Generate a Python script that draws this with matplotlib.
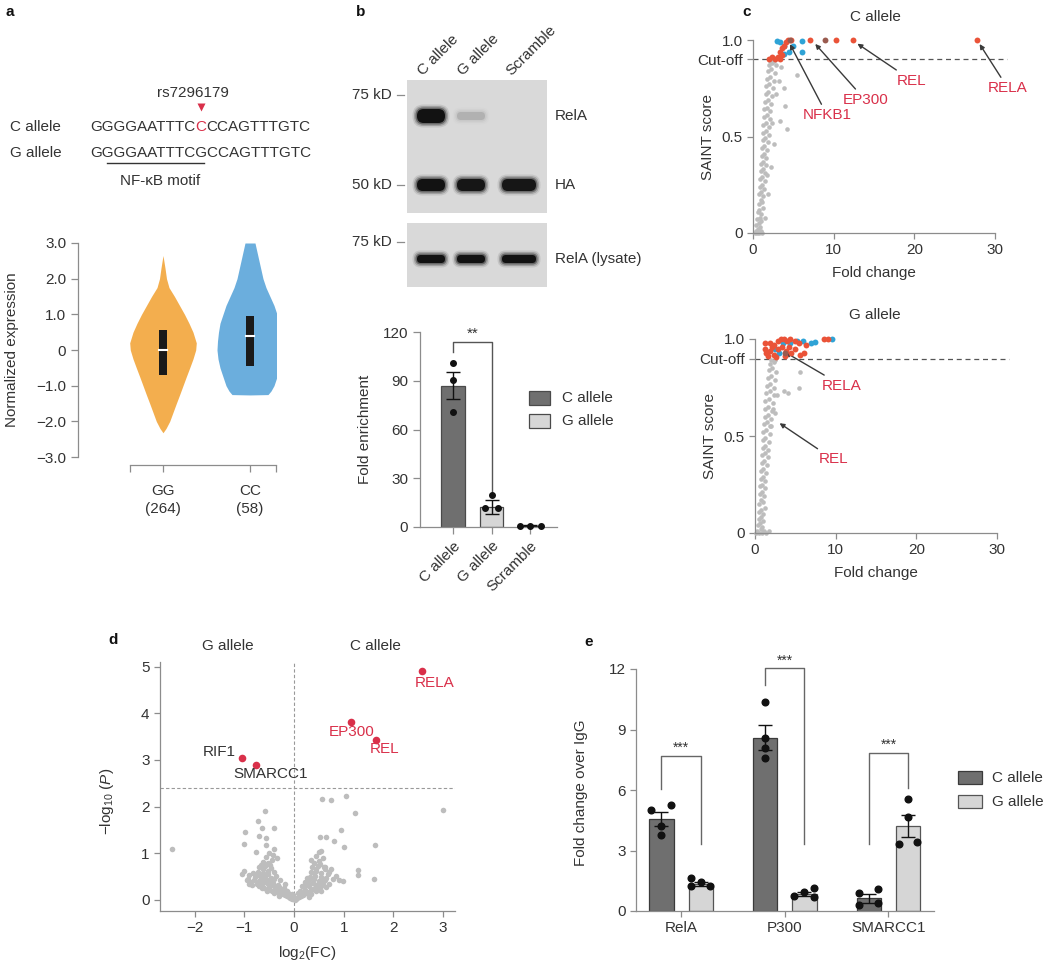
import numpy as np
import matplotlib
matplotlib.use('Agg')
import matplotlib.pyplot as plt
from matplotlib.patches import Rectangle, FancyBboxPatch

plt.rcParams['font.family'] = ['Liberation Sans', 'DejaVu Sans']
plt.rcParams['font.size'] = 11
plt.rcParams['text.color'] = '#333333'
plt.rcParams['axes.edgecolor'] = '#8c8c8c'
plt.rcParams['axes.linewidth'] = 0.9
plt.rcParams['xtick.color'] = '#8c8c8c'
plt.rcParams['ytick.color'] = '#8c8c8c'
plt.rcParams['xtick.labelcolor'] = '#333333'
plt.rcParams['ytick.labelcolor'] = '#333333'
plt.rcParams['xtick.labelsize'] = 11
plt.rcParams['ytick.labelsize'] = 11
plt.rcParams['axes.labelcolor'] = '#333333'
plt.rcParams['mathtext.fontset'] = 'custom'
plt.rcParams['mathtext.rm'] = 'Liberation Sans'
plt.rcParams['mathtext.it'] = 'Liberation Sans:italic'

RED = '#d9304a'
W, H = 1050, 967

# ---------------- data ----------------
# a: violin outlines (y value, half width in px)
gg_y = [2.65, 2.3, 2.0, 1.75, 1.5, 1.25, 1.0, 0.75, 0.5, 0.2, 0.0, -0.25, -0.5,
        -0.75, -1.0, -1.25, -1.5, -1.75, -2.0, -2.2, -2.32]
gg_hw = [0, 2, 3.5, 6, 11.5, 16.5, 21.5, 26, 30, 33.3, 32.7, 30, 26.7, 23.3, 20,
         16.7, 13.3, 10, 6.7, 3, 0]
cc_y = [3.0, 2.75, 2.5, 2.25, 2.0, 1.75, 1.5, 1.25, 1.0, 0.75, 0.5, 0.25, 0.0,
        -0.25, -0.5, -0.75, -1.0, -1.15, -1.25, -1.26]
cc_hw = [5, 7, 9, 11, 13, 16, 20, 24, 27, 30, 31.5, 32.5, 33, 32, 30, 27, 24,
         21, 18, 0]
gg_box = (-0.7, 0.0, 0.55)   # q1, median, q3
cc_box = (-0.45, 0.4, 0.95)

# b: blot lane intensities and bar data
lanes = ['C allele', 'G allele', 'Scramble']
rela_pull = [1.0, 0.12, 0.0]
ha_pull = [1.0, 0.95, 0.95]
rela_lysate = [1.0, 1.0, 1.0]
enrich_mean = [87, 12.3, 0.8]
enrich_sem = [8.2, 4.3, 0.2]
enrich_pts = [[101, 90.5, 71], [19.7, 11.7, 11.7], [0.8, 0.8, 0.8]]
enrich_off = [[0, 0, 0], [0, -0.18, 0.18], [-0.27, 0, 0.28]]

# c: SAINT scores (fold change, score)
c_gray_x = [0.2, 0.35, 0.5, 0.65, 0.8, 0.95, 1.1, 0.4, 0.7, 0.9, 0.55, 0.85, 1.05,
            0.6, 0.8, 1.0, 1.2, 0.7, 0.95, 1.15, 0.8, 1.0, 1.3, 0.85, 1.1, 1.35,
            0.9, 1.15, 1.45, 1.0, 1.25, 1.5, 1.75, 1.05, 1.3, 1.6, 1.1, 1.35, 1.65,
            1.15, 1.4, 1.75, 1.2, 1.5, 1.85, 1.25, 1.55, 1.95, 1.3, 1.6, 2.0, 2.4,
            1.35, 1.7, 2.05, 1.4, 1.75, 2.15, 1.45, 1.85, 2.25, 1.55, 1.9, 2.3,
            1.6, 2.0, 2.45, 1.7, 2.1, 2.55, 1.8, 2.2, 2.7, 1.95, 2.4, 2.9, 2.15, 2.6,
            4.2, 4.0, 3.3, 3.9, 3.2, 5.5, 3.5, 2.9, 2.6, 2.2, 1.9, 1.5]
c_gray_y = [0.0, 0.01, 0.0, 0.02, 0.0, 0.01, 0.0, 0.04, 0.05, 0.03, 0.07, 0.08, 0.06,
            0.11, 0.12, 0.10, 0.13, 0.15, 0.17, 0.16, 0.20, 0.21, 0.19, 0.24, 0.25,
            0.23, 0.28, 0.29, 0.27, 0.32, 0.33, 0.31, 0.30, 0.36, 0.37, 0.35, 0.40,
            0.41, 0.39, 0.44, 0.45, 0.43, 0.48, 0.49, 0.47, 0.52, 0.53, 0.51, 0.56,
            0.57, 0.55, 0.57, 0.60, 0.61, 0.59, 0.64, 0.65, 0.63, 0.68, 0.69, 0.67,
            0.72, 0.73, 0.71, 0.76, 0.77, 0.75, 0.80, 0.81, 0.79, 0.84, 0.85, 0.83,
            0.87, 0.88, 0.87, 0.89, 0.89,
            0.54, 0.66, 0.58, 0.75, 0.79, 0.82, 0.86, 0.72, 0.46, 0.34, 0.20, 0.08]
c_red_x = [2.0, 2.4, 2.7, 3.1, 3.4, 3.6, 3.3, 3.6, 3.9, 4.1, 4.4, 4.7, 7.1, 10.3, 12.4, 27.8]
c_red_y = [0.90, 0.91, 0.90, 0.91, 0.90, 0.92, 0.94, 0.96, 0.97, 0.99, 1.0, 1.0, 1.0, 1.0, 1.0, 1.0]
c_blue_x = [3.0, 3.4, 3.8, 4.5, 6.1, 6.1, 5.0, 3.9]
c_blue_y = [0.995, 0.99, 0.97, 0.94, 0.995, 0.94, 0.97, 0.93]
c_dark_x = [4.6, 8.9]
c_dark_y = [1.0, 1.0]

g_gray_x = [0.15, 0.3, 0.5, 0.7, 0.9, 1.1, 1.4, 1.7, 0.35, 0.6, 0.85, 0.45, 0.75, 1.0,
            0.5, 0.7, 0.95, 1.2, 0.55, 0.8, 1.05, 0.6, 0.85, 1.15, 0.65, 0.9, 1.25,
            0.7, 0.95, 1.3, 0.8, 1.05, 1.4, 0.85, 1.1, 1.5, 0.9, 1.2, 1.55, 0.95,
            1.25, 1.65, 1.0, 1.3, 1.75, 1.05, 1.4, 1.85, 1.1, 1.45, 1.9, 1.2, 1.55,
            2.0, 1.25, 1.6, 2.1, 1.3, 1.7, 2.2, 1.4, 1.8, 2.3, 1.5, 1.9, 2.4, 1.6,
            2.0, 2.5, 1.7, 2.15, 2.6, 1.85, 2.3, 2.0, 2.5,
            5.6, 5.4, 3.6, 2.7, 4.1, 2.2, 2.5, 2.0]
g_gray_y = [0.0, 0.01, 0.0, 0.02, 0.0, 0.01, 0.0, 0.01, 0.04, 0.05, 0.03, 0.07, 0.08,
            0.06, 0.11, 0.12, 0.10, 0.13, 0.15, 0.17, 0.16, 0.20, 0.21, 0.19, 0.24,
            0.25, 0.23, 0.28, 0.29, 0.27, 0.32, 0.33, 0.31, 0.36, 0.37, 0.35, 0.40,
            0.41, 0.39, 0.44, 0.45, 0.43, 0.48, 0.49, 0.47, 0.52, 0.53, 0.51, 0.56,
            0.57, 0.55, 0.60, 0.61, 0.59, 0.64, 0.65, 0.63, 0.68, 0.69, 0.67, 0.72,
            0.73, 0.71, 0.76, 0.77, 0.75, 0.80, 0.81, 0.79, 0.84, 0.85, 0.83, 0.87,
            0.88, 0.89, 0.89,
            0.83, 0.75, 0.73, 0.71, 0.72, 0.64, 0.62, 0.55]
g_red_x = [1.3, 1.8, 2.3, 2.8, 3.2, 3.6, 4.0, 4.4, 4.9, 5.4, 1.4, 1.9, 2.4, 2.9, 3.4,
           3.9, 4.5, 5.0, 5.6, 6.1, 1.6, 2.6, 3.7, 6.3, 8.6, 9.0, 1.2, 2.1, 4.2]
g_red_y = [0.98, 0.98, 0.97, 0.99, 1.0, 1.0, 0.99, 1.0, 0.99, 0.98, 0.93, 0.94, 0.92,
           0.95, 0.96, 0.94, 0.93, 0.95, 0.92, 0.93, 0.91, 0.905, 0.91, 0.97, 1.0,
           1.0, 0.95, 0.96, 0.96]
g_blue_x = [2.5, 3.0, 4.3, 5.2, 6.9, 7.4, 9.5, 3.5, 6.0]
g_blue_y = [0.95, 0.93, 0.98, 0.99, 0.98, 0.985, 1.0, 0.98, 0.99]
g_dark_x = [3.7]
g_dark_y = [0.93]

# d: volcano (log2 FC, -log10 P)
d_gray_x = [-2.45, -0.58, -0.73, -0.98, -0.64, -0.40, -0.71, -0.56, -1.0, -0.56, -0.76,
            -1.0, -0.88, -0.91, 0.56, 0.75, 1.05, 1.22, 3.0, 0.95, 0.52, 0.64, 0.81,
            1.0, 1.63, 0.35, 0.55, 0.62, 0.75, 1.28, 1.28, 1.61, 0.91, 0.98,
            -0.05, 0.04, -0.1, 0.1, -0.18, 0.17, 0.0, -0.02,
            -0.3, -0.22, 0.25, 0.32, -0.12, 0.08,
            -0.45, -0.35, -0.25, 0.22, 0.35, 0.45, -0.15, 0.12,
            -0.6, -0.5, -0.4, -0.3, -0.2, 0.2, 0.3, 0.42, 0.55, -0.7, 0.5,
            -0.75, -0.65, -0.55, -0.42, -0.32, 0.28, 0.38, 0.48, 0.58, -0.85,
            -0.8, -0.7, -0.6, -0.5, -0.4, 0.3, 0.4, 0.5, 0.6, -0.92,
            -0.78, -0.68, -0.58, -0.46, 0.32, 0.42, 0.55, 0.65,
            -0.72, -0.62, -0.52, -0.4, 0.34, 0.45, 0.55, 0.7,
            -0.7, -0.58, -0.46, 0.36, 0.48, 0.6,
            -0.62, -0.52, -0.44, 0.4, 0.5, 0.58, -0.56,
            -0.5, -0.42, 0.45, 0.5, -0.4, -0.35,
            -0.08, 0.06, -0.14, 0.14, -0.22, 0.2, -0.28, 0.28, -0.38, 0.38, -0.48,
            0.46, -0.58, 0.52, -0.66, 0.62, -0.74, -0.82, 0.68, -0.52, -0.36, 0.4,
            0.25, -0.28, -0.18, 0.16, 0.22, -0.62, 0.62, -0.66, 0.52, -0.48, 0.44,
            -0.9, -0.95, 0.7, 0.78, 0.85, -1.05, -0.55, 0.55, -0.65, 0.65, 0.35,
            -0.4, -0.05, 0.02, -0.3, 0.3]
d_gray_y = [1.09, 1.9, 1.70, 1.45, 1.55, 1.55, 1.38, 1.33, 1.2, 1.17, 1.03,
            0.63, 0.38, 0.53, 2.16, 2.14, 2.22, 1.86, 1.93, 1.5, 1.36, 1.34, 1.26,
            1.13, 1.18, 0.86, 1.04, 0.71, 0.66, 0.64, 0.54, 0.46, 0.43, 0.4,
            0.02, 0.03, 0.06, 0.07, 0.1, 0.1, 0.05, 0.1,
            0.15, 0.14, 0.15, 0.16, 0.15, 0.14,
            0.2, 0.22, 0.2, 0.21, 0.22, 0.2, 0.2, 0.2,
            0.26, 0.28, 0.3, 0.27, 0.25, 0.27, 0.29, 0.26, 0.3, 0.3, 0.25,
            0.35, 0.34, 0.36, 0.37, 0.33, 0.34, 0.36, 0.35, 0.37, 0.33,
            0.43, 0.41, 0.44, 0.42, 0.45, 0.42, 0.44, 0.41, 0.45, 0.45,
            0.5, 0.52, 0.5, 0.48, 0.5, 0.52, 0.5, 0.48,
            0.6, 0.58, 0.62, 0.6, 0.6, 0.62, 0.58, 0.6,
            0.7, 0.72, 0.68, 0.7, 0.72, 0.7,
            0.82, 0.8, 0.86, 0.8, 0.84, 0.9, 0.92,
            1.0, 0.97, 0.95, 1.02, 1.1, 0.9,
            0.04, 0.05, 0.08, 0.09, 0.12, 0.12, 0.18, 0.18, 0.24, 0.24, 0.32,
            0.31, 0.4, 0.38, 0.46, 0.42, 0.55, 0.58, 0.55, 0.55, 0.52, 0.58,
            0.48, 0.42, 0.34, 0.3, 0.38, 0.66, 0.66, 0.76, 0.78, 0.76, 0.66,
            0.35, 0.42, 0.35, 0.45, 0.52, 0.55, 0.2, 0.2, 0.25, 0.28, 0.12,
            0.14, 0.12, 0.01, 0.08, 0.07]
d_hits = ['RELA', 'EP300', 'REL', 'RIF1', 'SMARCC1']
d_hit_x = [2.58, 1.15, 1.65, -1.05, -0.77]
d_hit_y = [4.9, 3.82, 3.42, 3.05, 2.9]

# e: ChIP fold change over IgG
e_groups = ['RelA', 'P300', 'SMARCC1']
e_c_mean = [4.55, 8.6, 0.62]
e_c_sem = [0.35, 0.6, 0.22]
e_g_mean = [1.35, 0.82, 4.2]
e_g_sem = [0.09, 0.1, 0.55]
e_c_pts = [[5.0, 5.25, 4.2, 3.75], [10.35, 8.6, 8.1, 7.6], [0.89, 1.09, 0.3, 0.4]]
e_g_pts = [[1.64, 1.44, 1.24, 1.24], [0.74, 0.94, 1.14, 0.7], [5.55, 4.65, 3.3, 3.4]]
e_c_off = [[-0.1, 0.09, 0, 0], [0, 0, 0, 0], [-0.09, 0.09, -0.09, 0.09]]
e_g_off = [[-0.09, 0, 0.09, -0.09], [-0.1, 0, 0.09, 0.09], [0, 0, -0.09, 0.09]]

# ---------------- figure ----------------
fig = plt.figure(figsize=(W / 100, H / 100), dpi=100)


def ax_px(x0, y0, x1, y1):
    ax = fig.add_axes([x0 / W, 1 - y1 / H, (x1 - x0) / W, (y1 - y0) / H])
    ax.patch.set_alpha(0)
    return ax


ov = fig.add_axes([0, 0, 1, 1])
ov.set_xlim(0, W)
ov.set_ylim(H, 0)
ov.axis('off')
ov.patch.set_alpha(0)
ov.set_zorder(10)

for lab, (x, y) in zip('abcde', [(5, 12), (356, 12), (742, 12), (108, 640), (584, 642)]):
    ov.text(x, y, lab, fontsize=11, fontweight='bold', color='#111111', ha='left', va='center')

# ---- panel a: sequence ----
renderer = fig.canvas.get_renderer()
ov.text(10, 127, 'C allele', ha='left', va='center')
ov.text(10, 153, 'G allele', ha='left', va='center')
t1 = ov.text(90, 127, 'GGGGAATTTC', ha='left', va='center')
x1 = t1.get_window_extent(renderer).x1
t2 = ov.text(x1, 127, 'C', ha='left', va='center', color=RED)
bb2 = t2.get_window_extent(renderer)
ov.text(bb2.x1, 127, 'CCAGTTTGTC', ha='left', va='center')
ov.text(90, 153, 'GGGGAATTTCGCCAGTTTGTC', ha='left', va='center')
cx = (bb2.x0 + bb2.x1) / 2
ov.plot(cx, 107, marker='v', color=RED, ms=6, mec='none')
ov.text(cx - 8, 93, 'rs7296179', ha='center', va='center')
ov.plot([107, 204], [163, 163], color='#333333', lw=1)
ov.text(160, 181, 'NF-κB motif', ha='center', va='center')

# ---- panel a: violins ----
ax_a = ax_px(78, 243, 276, 465)
ax_a.set_xlim(-0.977, 1.299)
ax_a.set_ylim(-3.224, 3.0)
for c, ys, hws, col, box in [(0, gg_y, gg_hw, '#f3ae4e', gg_box), (1, cc_y, cc_hw, '#6baedd', cc_box)]:
    hw = np.array(hws) / 87.0
    ax_a.fill_betweenx(ys, c - hw, c + hw, color=col, lw=0)
    ax_a.add_patch(Rectangle((c - 0.045, box[0]), 0.09, box[2] - box[0], color='#1a1a1a', lw=0))
    ax_a.plot([c - 0.045, c + 0.045], [box[1], box[1]], color='white', lw=1.5)
for s in ['top', 'right']:
    ax_a.spines[s].set_visible(False)
ax_a.spines['left'].set_bounds(-3, 3)
ax_a.spines['bottom'].set_bounds(-0.379, 1.299)
ax_a.set_yticks([-3, -2, -1, 0, 1, 2, 3])
ax_a.set_yticklabels(['−3.0', '−2.0', '−1.0', '0', '1.0', '2.0', '3.0'])
ax_a.set_xticks([-0.379, 0, 1, 1.299])
ax_a.set_xticklabels(['', 'GG\n(264)', 'CC\n(58)', ''], linespacing=1.3)
ax_a.tick_params(axis='both', length=5, width=0.9)
ax_a.tick_params(axis='x', pad=9)
ax_a.set_ylabel('Normalized expression')
ax_a.yaxis.set_label_coords(-0.30, 0.518)

# ---- panel b: blot ----
ov.add_patch(Rectangle((407, 80), 140, 133, color='#d9d9d9', lw=0, zorder=0))
ov.add_patch(Rectangle((407, 223), 140, 64, color='#d9d9d9', lw=0, zorder=0))
lane_x = [431, 471, 519]
lane_w = [32, 32, 38]


def band(xc, yc, w, h, inten):
    if inten <= 0:
        return
    for grow, a in [(9, 0.10), (6, 0.2), (3, 0.4), (0, 1.0)]:
        ww, hh = w + grow, h + grow
        ov.add_patch(FancyBboxPatch((xc - ww / 2, yc - hh / 2), ww, hh,
                                    boxstyle='round,pad=0,rounding_size=%f' % (hh / 2.1),
                                    color='#121212', alpha=a * inten, lw=0, zorder=1))


for i in range(3):
    band(lane_x[i], 116, lane_w[i] - 4, 14 if i == 0 else 8, rela_pull[i])
    band(lane_x[i], 185, lane_w[i] - 4, 12, ha_pull[i])
    band(lane_x[i], 259, lane_w[i] - 4, 8, rela_lysate[i])
    ov.text(lane_x[i] - 8, 76, lanes[i], rotation=45, rotation_mode='anchor',
            ha='left', va='baseline')
for y, lab in [(95, '75 kD'), (185, '50 kD'), (242, '75 kD')]:
    ov.text(392, y, lab, ha='right', va='center')
    ov.plot([397, 404], [y, y], color='#8c8c8c', lw=0.9)
for y, lab in [(116, 'RelA'), (185, 'HA'), (259, 'RelA (lysate)')]:
    ov.text(555, y, lab, ha='left', va='center')

# ---- panel b: bars ----
ax_b = ax_px(420, 332, 557, 527)
ax_b.set_xlim(-0.857, 2.7)
ax_b.set_ylim(0, 120)
bcols = ['#6f6f6f', '#d6d6d6', '#d6d6d6']
for i in range(3):
    ax_b.bar(i, enrich_mean[i], width=0.6, color=bcols[i], edgecolor='#4a4a4a', lw=0.9)
    ax_b.errorbar(i, enrich_mean[i], yerr=enrich_sem[i], color='#111111', lw=1,
                  capsize=5, capthick=1)
    ax_b.plot(np.array(enrich_off[i]) + i, enrich_pts[i], 'o', color='#111111', ms=4,
              clip_on=False, zorder=5)
ax_b.plot([0, 0, 1, 1], [108, 114, 114, 21], color='#555555', lw=1)
ax_b.text(0.5, 114.5, '**', ha='center', va='bottom', fontsize=11)
for s in ['top', 'right']:
    ax_b.spines[s].set_visible(False)
ax_b.set_yticks([0, 30, 60, 90, 120])
ax_b.set_xticks([0, 1, 2])
ax_b.set_xticklabels(lanes, rotation=45, ha='right', rotation_mode='anchor')
ax_b.tick_params(axis='both', length=5, width=0.9)
ax_b.set_ylabel('Fold enrichment')
ax_b.yaxis.set_label_coords(-0.35, 0.5)
ov.add_patch(Rectangle((529, 391), 21, 14, facecolor='#6f6f6f', edgecolor='#4a4a4a', lw=0.9))
ov.add_patch(Rectangle((529, 414), 21, 14, facecolor='#d6d6d6', edgecolor='#4a4a4a', lw=0.9))
ov.text(562, 398, 'C allele', ha='left', va='center')
ov.text(562, 421, 'G allele', ha='left', va='center')


# ---- panel c: SAINT ----
def saint(rect, gx, gy, rx, ry, bx, by, dx, dy, cutoff, title, ty, notes):
    ax = ax_px(*rect)
    ax.set_xlim(0, 30)
    ax.set_ylim(0, 1)
    ax.scatter(gx, gy, s=11, color='#bdbdbd', lw=0, clip_on=False, zorder=2)
    ax.scatter(bx, by, s=18, color='#2fa3d6', lw=0, clip_on=False, zorder=3)
    ax.scatter(rx, ry, s=18, color='#ea5338', lw=0, clip_on=False, zorder=4)
    ax.scatter(dx, dy, s=18, color='#9a5b4f', lw=0, clip_on=False, zorder=4)
    ax.plot([0, 31.5], [cutoff, cutoff], color='#555555', lw=0.9, ls=(0, (4, 3)),
            clip_on=False, zorder=1)
    for s in ['top', 'right']:
        ax.spines[s].set_visible(False)
    ax.set_xticks([0, 10, 20, 30])
    ax.set_yticks([0, 0.5, cutoff, 1.0])
    ax.set_yticklabels(['0', '0.5', 'Cut-off', '1.0'])
    ax.tick_params(axis='both', length=4, width=0.9)
    ax.set_xlabel('Fold change', labelpad=6)
    ax.set_ylabel('SAINT score')
    ax.yaxis.set_label_coords(-0.155, 0.5)
    ov.text(875, ty, title, ha='center', va='center')
    for lab, tip, txt in notes:
        ax.annotate(lab, xy=tip, xytext=txt, color=RED, ha='center', va='center',
                    annotation_clip=False,
                    arrowprops=dict(arrowstyle='-|>', color='#3a3a3a', lw=1.0,
                                    mutation_scale=7, shrinkA=1, shrinkB=1))
    return ax


saint((753, 40, 995, 233), c_gray_x, c_gray_y, c_red_x, c_red_y, c_blue_x, c_blue_y,
      c_dark_x, c_dark_y, 0.9, 'C allele', 17,
      [('NFKB1', (4.5, 0.985), (9.2, 0.61)), ('EP300', (7.6, 0.985), (13.9, 0.69)),
       ('REL', (12.8, 0.985), (19.7, 0.79)), ('RELA', (28.0, 0.985), (31.6, 0.75))])
saint((755, 339, 997, 533), g_gray_x, g_gray_y, g_red_x, g_red_y, g_blue_x, g_blue_y,
      g_dark_x, g_dark_y, 0.897, 'G allele', 315,
      [('RELA', (3.6, 0.935), (10.8, 0.76)), ('REL', (2.9, 0.57), (9.7, 0.38))])

# ---- panel d: volcano ----
ax_d = ax_px(160, 662, 455, 911)
ax_d.set_xlim(-2.7, 3.24)
ax_d.set_ylim(-0.236, 5.1)
ax_d.scatter(d_gray_x, d_gray_y, s=16, color='#bdbdbd', lw=0, zorder=2)
ax_d.axhline(2.4, color='#999999', lw=0.8, ls=(0, (3, 2)), zorder=1)
ax_d.axvline(0, color='#999999', lw=0.8, ls=(0, (3, 2)), zorder=1)
ax_d.scatter(d_hit_x, d_hit_y, s=30, color=RED, lw=0, zorder=3)
d_lab_pos = [(2.83, 4.64), (1.16, 3.6), (1.83, 3.24), (-1.5, 3.18), (-0.47, 2.7)]
d_lab_col = [RED, RED, RED, '#333333', '#333333']
for lab, (tx, ty), col in zip(d_hits, d_lab_pos, d_lab_col):
    ax_d.text(tx, ty, lab, color=col, ha='center', va='center', fontsize=11)
ax_d.text(-1.34, 5.45, 'G allele', ha='center', va='center')
ax_d.text(1.64, 5.45, 'C allele', ha='center', va='center')
for s in ['top', 'right']:
    ax_d.spines[s].set_visible(False)
ax_d.set_xticks([-2, -1, 0, 1, 2, 3])
ax_d.set_xticklabels(['−2', '−1', '0', '1', '2', '3'])
ax_d.set_yticks([0, 1, 2, 3, 4, 5])
ax_d.tick_params(axis='both', length=4, width=0.9)
ax_d.set_xlabel('log$_2$(FC)', labelpad=6)
ax_d.set_ylabel('−log$_{10}$ ($P$)')
ax_d.yaxis.set_label_coords(-0.15, 0.44)

# ---- panel e: ChIP ----
ax_e = ax_px(636, 669, 934, 911)
ax_e.set_xlim(-0.435, 2.44)
ax_e.set_ylim(0, 12)
off = 0.19
for i in range(3):
    ax_e.bar(i - off, e_c_mean[i], width=0.235, color='#6f6f6f', edgecolor='#3a3a3a', lw=0.9)
    ax_e.bar(i + off, e_g_mean[i], width=0.235, color='#d6d6d6', edgecolor='#555555', lw=0.9)
    ax_e.errorbar(i - off, e_c_mean[i], yerr=e_c_sem[i], color='#111111', lw=1, capsize=5)
    ax_e.errorbar(i + off, e_g_mean[i], yerr=e_g_sem[i], color='#111111', lw=1, capsize=5)
    ax_e.plot(np.array(e_c_off[i]) + i - off, e_c_pts[i], 'o', color='#111111', ms=4.8, zorder=5)
    ax_e.plot(np.array(e_g_off[i]) + i + off, e_g_pts[i], 'o', color='#111111', ms=4.8, zorder=5)
brackets = [([-off, -off, off, off], [6.05, 7.68, 7.68, 3.3], 8.08),
            ([1 - off, 1 - off, 1 + off, 1 + off], [11.2, 12.05, 12.05, 3.3], 12.4),
            ([2 - off, 2 - off, 2 + off, 2 + off], [3.3, 7.83, 7.83, 6.1], 8.23)]
for i, (bx, by, sy) in enumerate(brackets):
    ax_e.plot(bx, by, color='#666666', lw=1, clip_on=False)
    ax_e.text(i, sy, '***', ha='center', va='center', fontsize=10)
for s in ['top', 'right']:
    ax_e.spines[s].set_visible(False)
ax_e.set_xticks([0, 1, 2])
ax_e.set_xticklabels(e_groups)
ax_e.set_yticks([0, 3, 6, 9, 12])
ax_e.tick_params(axis='both', length=4, width=0.9)
ax_e.set_ylabel('Fold change over IgG')
ax_e.yaxis.set_label_coords(-0.16, 0.49)
ov.add_patch(Rectangle((958, 771), 24, 13, facecolor='#6f6f6f', edgecolor='#3a3a3a', lw=0.9))
ov.add_patch(Rectangle((958, 795), 24, 13, facecolor='#d6d6d6', edgecolor='#555555', lw=0.9))
ov.text(992, 778, 'C allele', ha='left', va='center')
ov.text(992, 802, 'G allele', ha='left', va='center')

fig.savefig('out.png', dpi=100)
